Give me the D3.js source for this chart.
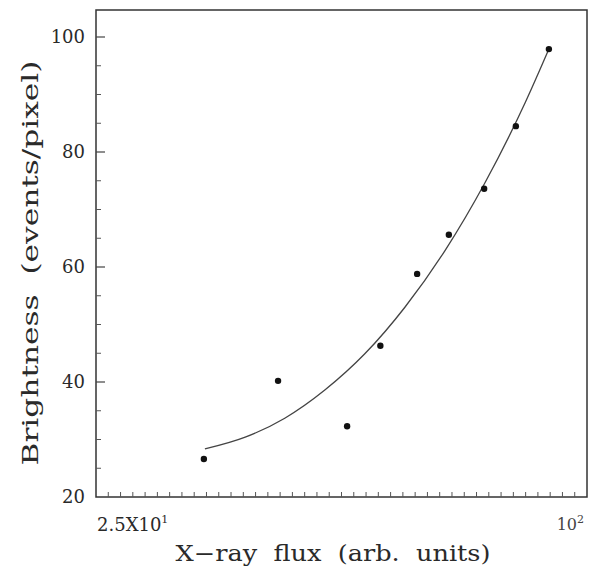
<!DOCTYPE html>
<html><head><meta charset="utf-8">
<script src="https://cdn.jsdelivr.net/npm/d3@7"></script>
<style>body{margin:0;background:#fff;}svg{display:block;}</style>
</head><body>
<script>
// Data
const fluxValues = [33.9, 41.8, 50.8, 55.8, 61.9, 67.7, 74.8, 81.8, 89.8];
const brightnessValues = [26.6, 40.2, 32.3, 46.3, 58.8, 65.6, 73.6, 84.5, 97.9];
const fitFlux = [34.0, 38.1, 42.6, 47.7, 53.4, 59.8, 67.0, 75.0, 84.0, 89.8];
const fitBrightness = [28.35, 30.4, 33.7, 38.6, 44.9, 53.0, 62.9, 74.7, 88.6, 97.9];
const yTickValues = [20, 40, 60, 80, 100];
const yTickLabels = ["20", "40", "60", "80", "100"];
const xLabelLeft = {base: "2.5X10", exp: "1"};
const xLabelRight = {base: "10", exp: "2"};
const xTitle = "X\u2212ray  flux  (arb.  units)";
const yTitle = "Brightness  (events/pixel)";

const W = 596, H = 573;
const m = {left: 96, right: 587, top: 10, bottom: 497};
const svg = d3.select("body").append("svg").attr("width", W).attr("height", H);
const font = "'DejaVu Serif', 'Liberation Serif', serif";
const ink = "#2a2a2a";

const x = d3.scaleLog().domain([25, 100]).range([m.left, m.right]);
const y = d3.scaleLinear().domain([20, 20 + (m.bottom - m.top) / 5.75]).range([m.bottom, m.top]);

// frame
svg.append("rect").attr("x", m.left).attr("y", m.top)
  .attr("width", m.right - m.left).attr("height", m.bottom - m.top)
  .attr("fill", "none").attr("stroke", "#333").attr("stroke-width", 1.5);

// y ticks (inside), major every 20, minor every 5
const yMinor = d3.range(25, 105, 5).filter(v => v % 20 !== 0);
svg.append("g").selectAll("line").data(yMinor).join("line")
  .attr("x1", m.left).attr("x2", m.left + 5)
  .attr("y1", d => y(d)).attr("y2", d => y(d))
  .attr("stroke", "#555").attr("stroke-width", 1);
svg.append("g").selectAll("line").data(yTickValues.filter(v => v > 20)).join("line")
  .attr("x1", m.left).attr("x2", m.left + 9)
  .attr("y1", d => y(d)).attr("y2", d => y(d))
  .attr("stroke", "#444").attr("stroke-width", 1.2);
svg.append("g").selectAll("text").data(yTickValues).join("text")
  .attr("x", m.left - 11).attr("y", d => y(d) + 6)
  .attr("text-anchor", "end").attr("font-family", font).attr("font-size", 18)
  .attr("fill", ink).text((d, i) => yTickLabels[i]);

// x minor ticks (inside bottom), evenly spread across the log axis
const xMinor = d3.range(1, 40).map(i => 25 * Math.pow(4, i / 40));
svg.append("g").selectAll("line").data(xMinor).join("line")
  .attr("x1", d => x(d)).attr("x2", d => x(d))
  .attr("y1", m.bottom).attr("y2", m.bottom - 5)
  .attr("stroke", "#555").attr("stroke-width", 1);

// x labels
const lt = svg.append("text").attr("x", m.left + 1).attr("y", 531)
  .attr("font-family", font).attr("font-size", 18).attr("fill", ink);
lt.append("tspan").text(xLabelLeft.base);
lt.append("tspan").attr("dy", -8).attr("font-size", 11).text(xLabelLeft.exp);
const rt = svg.append("text").attr("x", m.right - 3).attr("y", 530)
  .attr("text-anchor", "end")
  .attr("font-family", font).attr("font-size", 16).attr("fill", "#444");
rt.append("tspan").text(xLabelRight.base);
rt.append("tspan").attr("dy", -7).attr("font-size", 11).text(xLabelRight.exp);

// titles
svg.append("text").attr("x", 333).attr("y", 561).attr("text-anchor", "middle")
  .attr("font-family", font).attr("font-size", 22).attr("fill", ink)
  .attr("textLength", 315).attr("lengthAdjust", "spacingAndGlyphs")
  .style("white-space", "pre").text(xTitle);
svg.append("text").attr("transform", "translate(38,263) rotate(-90)")
  .attr("text-anchor", "middle").attr("font-family", font).attr("font-size", 22)
  .attr("fill", ink).attr("textLength", 405).attr("lengthAdjust", "spacingAndGlyphs")
  .style("white-space", "pre").text(yTitle);

// fitted curve
const fit = fitFlux.map((v, i) => [v, fitBrightness[i]]);
svg.append("path").datum(fit)
  .attr("d", d3.line().x(d => x(d[0])).y(d => y(d[1])).curve(d3.curveMonotoneX))
  .attr("fill", "none").attr("stroke", "#444").attr("stroke-width", 1.3);

// points
svg.append("g").selectAll("circle").data(fluxValues).join("circle")
  .attr("cx", d => x(d)).attr("cy", (d, i) => y(brightnessValues[i]))
  .attr("r", 3.2).attr("fill", "#111");
</script>
</body></html>
